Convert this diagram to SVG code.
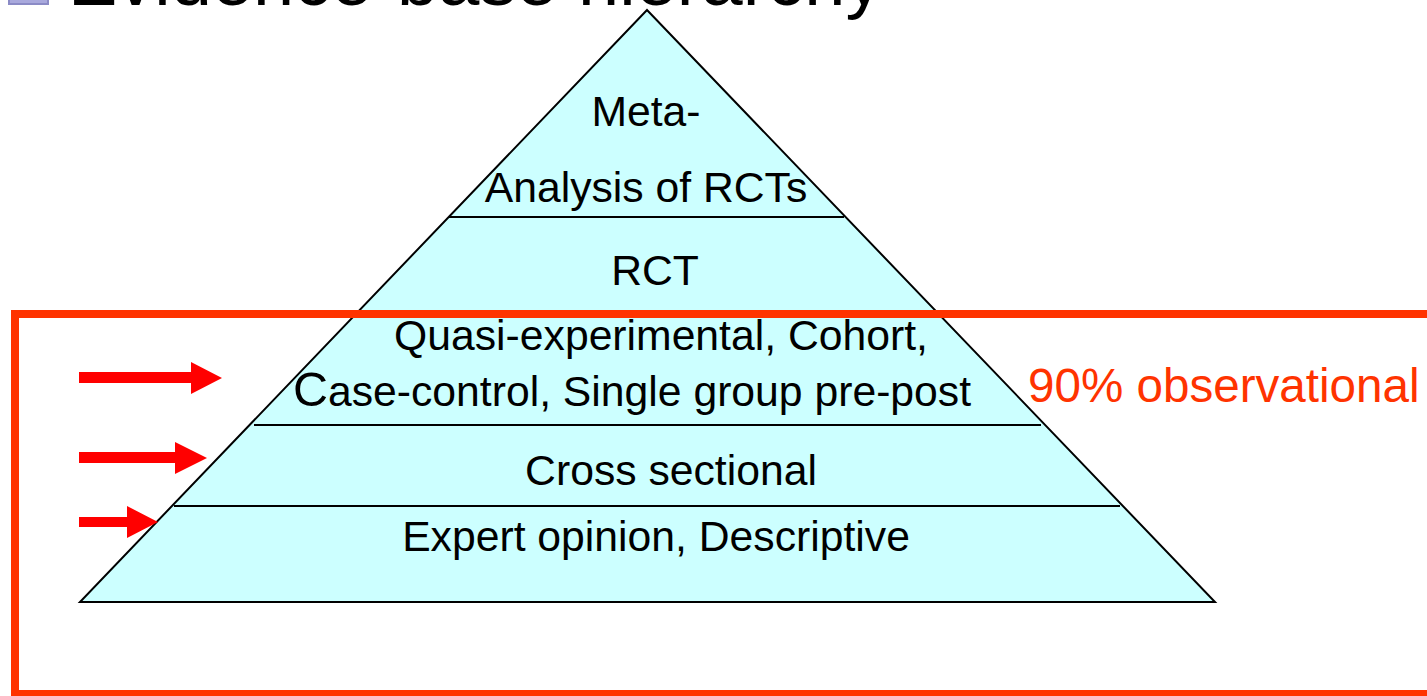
<svg xmlns="http://www.w3.org/2000/svg" width="1427" height="696" viewBox="0 0 1427 696">
  <style>
    .lbl { font-family: "Liberation Sans", Arial, sans-serif; font-size: 42.7px; fill: #000; text-anchor: middle; }
    .tier { stroke: #000; stroke-width: 2; }
    .arrow { fill: #ff0000; }
  </style>
  <rect x="0" y="0" width="1427" height="696" fill="#ffffff"/>

  <!-- slide title, partly above the top edge -->
  <g id="title">
    <rect x="9" y="-36" width="39" height="40" fill="#a9a9dd" stroke="#8b8bc6" stroke-width="2"/>
    <text x="68" y="5" font-family="'Liberation Sans', Arial, sans-serif" font-size="74" fill="#000">Evidence-base hierarchy</text>
  </g>

  <!-- pyramid body -->
  <g id="pyramid">
    <polygon points="647,10 80,602 1215,602" fill="#ccffff" stroke="#000" stroke-width="2" stroke-linejoin="miter"/>
    <line class="tier" x1="449" y1="217" x2="844" y2="217"/>
    <line class="tier" x1="254" y1="425" x2="1041" y2="425"/>
    <line class="tier" x1="174" y1="506" x2="1120" y2="506"/>
  </g>

  <g id="tier-meta">
    <text class="lbl" x="646" y="126">Meta-</text>
    <text class="lbl" x="646" y="202">Analysis of RCTs</text>
  </g>
  <g id="tier-rct">
    <text class="lbl" x="655" y="285">RCT</text>
  </g>
  <g id="tier-quasi">
    <text class="lbl" x="661" y="350">Quasi-experimental, Cohort,</text>
    <text class="lbl" x="632" y="406"><tspan font-size="48.5">C</tspan>ase-control, Single group pre-post</text>
  </g>
  <g id="tier-cross">
    <text class="lbl" x="671" y="485">Cross sectional</text>
  </g>
  <g id="tier-expert">
    <text class="lbl" x="656" y="551">Expert opinion, Descriptive</text>
  </g>

  <!-- observational bracket -->
  <g id="observational">
    <rect x="15" y="314" width="1430" height="380" fill="none" stroke="#ff3300" stroke-width="8"/>
    <text x="1028" y="402" font-family="'Liberation Sans', Arial, sans-serif" font-size="47.6" fill="#ff3300">90% observational</text>
  </g>

  <!-- pointer arrows -->
  <g id="connectors">
    <polygon class="arrow" points="79,372 191,372 191,362 222,378 191,394 191,383 79,383"/>
    <polygon class="arrow" points="79,452 175,452 175,442 207,458 175,474 175,463 79,463"/>
    <polygon class="arrow" points="79,517 127,517 127,506 158,522 127,538 127,527 79,527"/>
  </g>
</svg>
